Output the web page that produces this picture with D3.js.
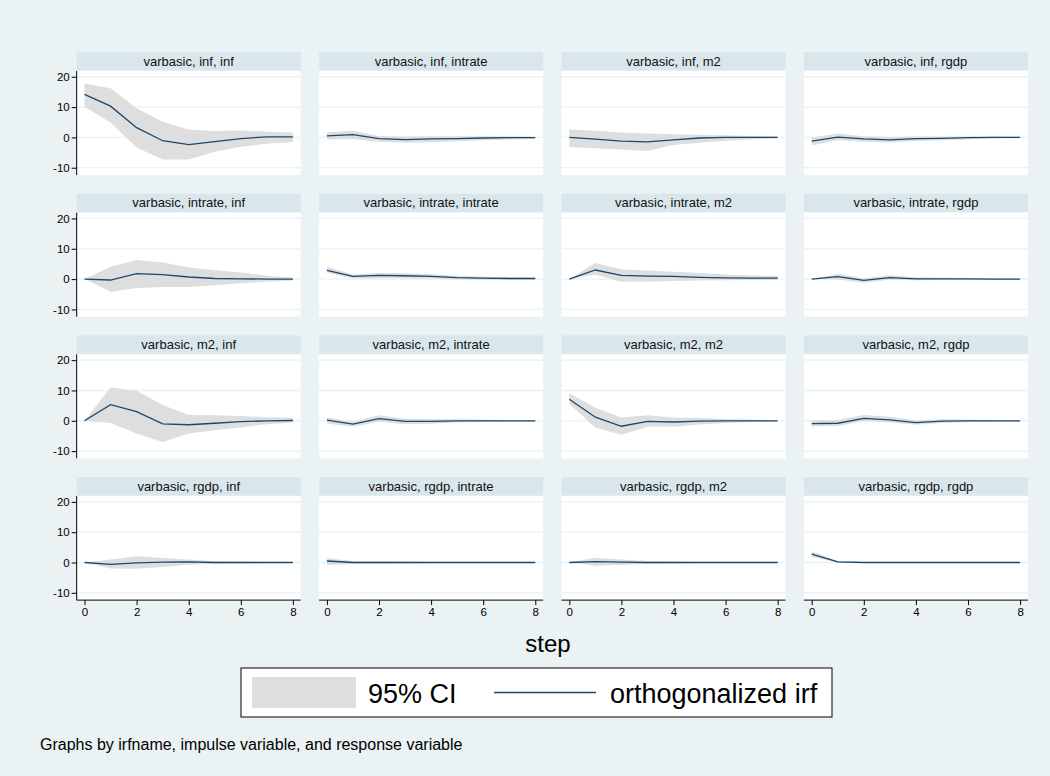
<!DOCTYPE html>
<html><head><meta charset="utf-8">
<script src="https://cdn.jsdelivr.net/npm/d3@7"></script>
<style>body{margin:0;background:#EAF2F3}svg{display:block}text{font-family:"Liberation Sans",Arial,sans-serif}</style>
</head><body><svg id="c" width="1050" height="776"></svg>
<script>
const steps = [0,1,2,3,4,5,6,7,8];
const impulses = ["inf","intrate","m2","rgdp"];
const responses = ["inf","intrate","m2","rgdp"];
const yTicks = [-10,0,10,20];
const xTicks = [0,2,4,6,8];

// orthogonalized irf, lower and upper 95% CI, one array per response, grouped by impulse
const irfInf = [[14.2,10.3,3.2,-1.1,-2.4,-1.4,-0.4,0.2,0.2],[0.5,0.9,-0.4,-0.7,-0.5,-0.4,-0.2,-0.1,-0.1],[0,-0.6,-1.2,-1.5,-0.8,-0.2,0,0,0],[-1.2,0.1,-0.5,-0.8,-0.4,-0.3,-0.1,0,0]];
const loInf  = [[10.1,4.9,-3.3,-7.3,-7.3,-4.7,-3.1,-2.1,-1.5],[-0.7,-0.5,-1.4,-1.8,-1.6,-1.3,-0.9,-0.7,-0.5],[-3.2,-3.6,-4.0,-4.5,-2.5,-1.8,-1.1,-0.7,-0.3],[-2.7,-0.9,-1.4,-1.7,-1.2,-0.9,-0.6,-0.4,-0.3]];
const hiInf  = [[17.8,16.2,9.6,5.2,2.6,2.1,2.3,1.9,1.6],[1.6,2.2,0.5,0.3,0.4,0.4,0.4,0.4,0.3],[2.6,2.2,1.6,1.3,1.0,0.9,0.7,0.5,0.3],[0,1.3,0.4,0.1,0.3,0.3,0.3,0.3,0.2]];

const irfIntrate = [[0,-0.3,1.8,1.5,0.7,0.2,0.1,0,0],[2.9,0.9,1.2,1.1,0.9,0.5,0.3,0.2,0.2],[0,3.0,1.2,1.0,0.9,0.6,0.4,0.3,0.3],[0,0.8,-0.4,0.5,0.1,0.1,0.1,0,0]];
const loIntrate  = [[0,-4.2,-2.9,-2.6,-2.6,-2.0,-1.4,-0.9,-0.5],[2.1,0.2,0.3,0.3,0.2,-0.1,-0.2,-0.2,-0.2],[0,1.5,-0.9,-0.9,-0.6,-0.5,-0.4,-0.3,-0.3],[0,-0.1,-1.2,-0.2,-0.4,-0.3,-0.2,-0.2,-0.1]];
const hiIntrate  = [[0,4.1,6.3,5.5,3.8,2.9,2.2,1.1,0.5],[4.0,1.5,2.0,1.9,1.6,1.1,0.8,0.6,0.5],[0,5.3,3.2,2.8,2.4,2.0,1.5,1.2,1.0],[0,1.7,0.3,1.3,0.6,0.5,0.4,0.3,0.2]];

const irfM2 = [[0,5.3,3.0,-1.0,-1.3,-0.8,-0.3,0,0.1],[0.2,-1.1,0.7,-0.2,-0.2,0,0,0,0],[7.1,1.2,-1.8,-0.2,-0.4,-0.1,0,0,0],[-0.9,-0.8,0.8,0.3,-0.6,-0.1,0,0,0]];
const loM2  = [[0,-0.7,-4.2,-7.0,-4.2,-3.1,-2.2,-1.1,-0.6],[-0.9,-2.0,-0.3,-1.1,-1.0,-0.6,-0.4,-0.3,-0.2],[5.6,-2.3,-4.6,-2.0,-2.0,-1.2,-0.7,-0.4,-0.2],[-1.8,-1.7,-0.1,-0.6,-1.3,-0.7,-0.4,-0.3,-0.2]];
const hiM2  = [[0,11.0,9.9,5.2,1.9,1.8,1.6,1.2,1.0],[1.1,-0.3,1.8,0.7,0.6,0.5,0.4,0.3,0.2],[9.1,4.3,1.1,1.8,1.1,0.9,0.6,0.4,0.2],[0.2,0.3,1.9,1.3,0.2,0.5,0.4,0.3,0.2]];

const irfRgdp = [[0,-0.6,-0.1,0.1,0.2,0,0,0,0],[0.5,0,0,0,0,0,0,0,0],[0,0.3,0.1,0,0,0,0,0,0],[2.8,0.2,0,0,0,0,0,0,0]];
const loRgdp  = [[0,-2.0,-2.1,-1.5,-0.7,-0.4,-0.3,-0.2,-0.2],[-0.8,-0.5,-0.4,-0.3,-0.2,-0.2,-0.1,-0.1,-0.1],[0,-1.1,-0.8,-0.5,-0.3,-0.2,-0.2,-0.1,-0.1],[1.9,-0.1,-0.2,-0.1,-0.1,-0.1,-0.1,0,0]];
const hiRgdp  = [[0,1.0,2.1,1.5,1.0,0.4,0.3,0.2,0.2],[1.4,0.5,0.4,0.3,0.2,0.2,0.1,0.1,0.1],[0,1.6,1.0,0.5,0.3,0.2,0.2,0.1,0.1],[3.7,0.6,0.2,0.1,0.1,0.1,0.1,0,0]];

const irfs = [irfInf, irfIntrate, irfM2, irfRgdp];
const los = [loInf, loIntrate, loM2, loRgdp];
const his = [hiInf, hiIntrate, hiM2, hiRgdp];

const BG = "#EAF2F3", STRIP = "#D9E6EB", CI = "#DEDEDE", LINE = "#1A476F";
const FONT = '"Liberation Sans",Arial,sans-serif';
const svg = d3.select("#c");
svg.append("rect").attr("width",1050).attr("height",776).attr("fill",BG);

const plotW = 224, plotH = 104, colStep = 242.4, rowStep = 141.7;
const left0 = 76.7, top0 = 71, stripH = 18.3;

const x = d3.scaleLinear().domain([-0.3, 8.3]).range([0, plotW]);
const y = d3.scaleLinear().domain([-12.4, 21.9]).range([plotH, 0]);
const fmt = d => String(d);

impulses.forEach((imp, r) => {
  responses.forEach((resp, c) => {
    const px = left0 + c*colStep, py = top0 + r*rowStep;
    const g = svg.append("g").attr("transform", `translate(${px},${py})`);
    g.append("rect").attr("x",0).attr("y",-stripH-0.7).attr("width",plotW).attr("height",stripH).attr("fill",STRIP);
    g.append("text").attr("x",plotW/2).attr("y",-stripH/2-0.7).attr("dy","0.35em")
      .attr("text-anchor","middle").attr("font-size",13).attr("fill","#111")
      .text(`varbasic, ${imp}, ${resp}`);
    g.append("rect").attr("width",plotW).attr("height",plotH).attr("fill","#fff");
    g.selectAll("line.grid").data(yTicks).join("line").attr("class","grid")
      .attr("x1",0).attr("x2",plotW).attr("y1",d=>y(d)).attr("y2",d=>y(d))
      .attr("stroke",BG).attr("stroke-width",1.3);
    const data = steps.map((s,i)=>({s, v: irfs[r][c][i], lo: los[r][c][i], hi: his[r][c][i]}));
    g.append("path").datum(data)
      .attr("d", d3.area().x(d=>x(d.s)).y0(d=>y(d.lo)).y1(d=>y(d.hi)))
      .attr("fill",CI);
    g.append("path").datum(data)
      .attr("d", d3.line().x(d=>x(d.s)).y(d=>y(d.v)))
      .attr("fill","none").attr("stroke",LINE).attr("stroke-width",1.3);
    if (c === 0) {
      const ya = g.append("g").call(d3.axisLeft(y).tickValues(yTicks).tickSize(5).tickPadding(2).tickFormat(fmt));
      ya.select(".domain").attr("d", `M0,0V${plotH}`).attr("stroke","#000");
      ya.selectAll("text").attr("font-size",11.5).attr("fill","#000").attr("font-family",FONT);
      ya.selectAll(".tick line").attr("stroke","#000");
    }
    if (r === 3) {
      const xa = g.append("g").attr("transform",`translate(0,${plotH})`)
        .call(d3.axisBottom(x).tickValues(xTicks).tickSize(5).tickPadding(3).tickFormat(fmt));
      xa.select(".domain").attr("d", `M0,0H${plotW}`).attr("stroke","#000");
      xa.selectAll("text").attr("font-size",11.5).attr("fill","#000").attr("font-family",FONT);
      xa.selectAll(".tick line").attr("stroke","#000");
    }
  });
});

svg.append("text").attr("x",548).attr("y",652).attr("text-anchor","middle").attr("font-size",24).attr("fill","#000").text("step");

const lg = svg.append("g");
lg.append("rect").attr("x",241).attr("y",668).attr("width",591).attr("height",49).attr("fill","#fff").attr("stroke","#000").attr("stroke-width",1);
lg.append("rect").attr("x",252).attr("y",677).attr("width",104).attr("height",31).attr("fill",CI);
lg.append("text").attr("x",368).attr("y",703).attr("font-size",27).attr("fill","#000").text("95% CI");
lg.append("line").attr("x1",494).attr("x2",596).attr("y1",692.5).attr("y2",692.5).attr("stroke",LINE).attr("stroke-width",1.6);
lg.append("text").attr("x",610).attr("y",703).attr("font-size",27).attr("fill","#000").text("orthogonalized irf");

svg.append("text").attr("x",40).attr("y",750).attr("font-size",16).attr("fill","#000").text("Graphs by irfname, impulse variable, and response variable");
</script></body></html>
